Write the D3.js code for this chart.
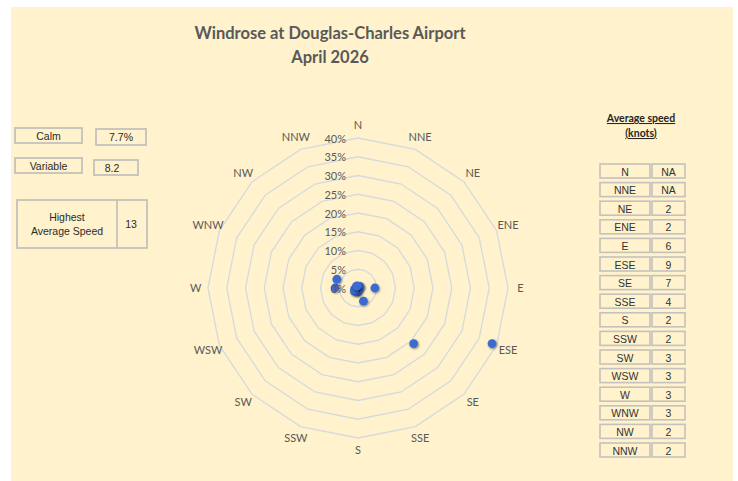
<!DOCTYPE html>
<html>
<head>
<meta charset="utf-8">
<script src="https://cdn.jsdelivr.net/npm/d3@7"></script>
<style>
  html, body { margin: 0; padding: 0; background: #ffffff; }
  svg { display: block; }
</style>
</head>
<body>
<svg id="chart" width="738" height="481"></svg>
<script>
// ---- data ----
const directions = ["N","NNE","NE","ENE","E","ESE","SE","SSE","S","SSW","SW","WSW","W","WNW","NW","NNW"];
const frequency = [0, 0, 0.6, 0.6, 4.5, 38.7, 21, 3.8, 1, 1, 1.3, 1, 6.1, 6.1, 0.6, 0.6]; // % of observations
const avgSpeed = ["NA","NA","2","2","6","9","7","4","2","2","3","3","3","3","2","2"]; // knots
const ringTicks = [0, 5, 10, 15, 20, 25, 30, 35, 40];
const titleLines = ["Windrose at Douglas-Charles Airport", "April 2026"];
const calmValue = "7.7%";
const variableValue = "8.2";
const highestAvgSpeed = "13";

// ---- layout ----
const svg = d3.select("#chart");
const cx = 358, cy = 288, R = 150;
const gridColor = "#d6dade";
const textColor = "#595959";
const boxStroke = "#c4c2bc";

svg.append("rect").attr("x", 11).attr("y", 7).attr("width", 722).attr("height", 474)
  .attr("fill", "#fff2cc");

// title
svg.selectAll("text.title").data(titleLines).join("text")
  .attr("class", "title")
  .attr("x", 330).attr("y", (d, i) => 39 + i * 24)
  .attr("text-anchor", "middle")
  .attr("font-family", "Lato, 'Open Sans', sans-serif")
  .attr("font-weight", "bold").attr("font-size", 16.5)
  .attr("fill", textColor)
  .text(d => d);

// radar scales
const r = d3.scaleLinear().domain([0, 40]).range([0, R]);
const angle = d3.scalePoint().domain(directions).range([0, 2 * Math.PI * (15 / 16)]);
const px = (dir, v) => cx + r(v) * Math.sin(angle(dir));
const py = (dir, v) => cy - r(v) * Math.cos(angle(dir));

const g = svg.append("g");
// rings (16-gon)
const ring = d3.line().curve(d3.curveLinearClosed);
g.selectAll("path.ring").data(ringTicks.filter(t => t > 0)).join("path")
  .attr("class", "ring")
  .attr("d", t => ring(directions.map(dd => [px(dd, t), py(dd, t)])))
  .attr("fill", "none").attr("stroke", gridColor).attr("stroke-width", 1.3);

// direction labels
g.selectAll("text.dir").data(directions).join("text")
  .attr("class", "dir")
  .attr("x", d => px(d, 43.3)).attr("y", d => py(d, 43.3) - 1)
  .attr("text-anchor", "middle").attr("dominant-baseline", "central")
  .attr("font-family", "Lato, 'Open Sans', sans-serif").attr("font-size", 11)
  .attr("fill", textColor)
  .text(d => d);

// shadow filter for markers
const defs = svg.append("defs");
const f = defs.append("filter").attr("id", "sh").attr("x", "-50%").attr("y", "-50%").attr("width", "200%").attr("height", "200%");
f.append("feDropShadow").attr("dx", 0.8).attr("dy", 1).attr("stdDeviation", 0.8)
  .attr("flood-color", "#000").attr("flood-opacity", 0.45);

// points
g.selectAll("circle.pt").data(directions.map((d, i) => ({ dir: d, v: frequency[i] }))).join("circle")
  .attr("class", "pt")
  .attr("cx", d => px(d.dir, d.v)).attr("cy", d => py(d.dir, d.v))
  .attr("r", 4.4)
  .attr("fill", "#3a6bd0")
  .attr("filter", "url(#sh)");

// ring tick labels
g.selectAll("text.tick").data(ringTicks).join("text")
  .attr("class", "tick")
  .attr("x", cx - 12).attr("y", t => cy - r(t))
  .attr("text-anchor", "end").attr("dominant-baseline", "central")
  .attr("font-family", "Lato, 'Open Sans', sans-serif").attr("font-size", 11)
  .attr("fill", textColor)
  .text(t => t + "%");

// left info boxes
const boxFont = "'Liberation Sans', Arial, sans-serif";
function box(x, y, w, h) {
  svg.append("rect").attr("x", x).attr("y", y).attr("width", w).attr("height", h)
    .attr("fill", "none").attr("stroke", boxStroke).attr("stroke-width", 1.8);
}
function label(x, y, t, anchor) {
  svg.append("text").attr("x", x).attr("y", y)
    .attr("text-anchor", anchor || "middle").attr("dominant-baseline", "central")
    .attr("font-family", boxFont).attr("font-size", 10.5).attr("fill", "#2b2b2b")
    .text(t);
}
box(15, 128, 67, 15); label(48.5, 135.5, "Calm");
box(96, 129, 50, 16); label(121, 137, calmValue);
box(15, 158, 67, 15); label(48.5, 165.5, "Variable");
box(94, 160, 44, 15); label(112, 167.5, variableValue);
box(17, 200, 130, 48);
svg.append("line").attr("x1", 117).attr("x2", 117).attr("y1", 200).attr("y2", 248)
  .attr("stroke", boxStroke).attr("stroke-width", 1.8);
label(67, 217, "Highest"); label(67, 231, "Average Speed");
label(131, 224, highestAvgSpeed);

// right table
const hdr = svg.append("g").attr("font-family", "Lato, 'Open Sans', sans-serif")
  .attr("font-weight", "bold").attr("font-size", 10.5).attr("fill", "#262626")
  .attr("text-anchor", "middle").attr("text-decoration", "underline");
hdr.append("text").attr("x", 641).attr("y", 122).text("Average speed");
hdr.append("text").attr("x", 641).attr("y", 137).text("(knots)");

const rowY = d3.scaleLinear().domain([0, 15]).range([164, 443]);
const rows = svg.append("g");
directions.forEach((d, i) => {
  const y = rowY(i);
  rows.append("rect").attr("x", 600).attr("y", y).attr("width", 50).attr("height", 14)
    .attr("fill", "none").attr("stroke", boxStroke).attr("stroke-width", 1.6);
  rows.append("rect").attr("x", 652).attr("y", y).attr("width", 33).attr("height", 14)
    .attr("fill", "none").attr("stroke", boxStroke).attr("stroke-width", 1.6);
  rows.append("text").attr("x", 625).attr("y", y + 7.5)
    .attr("text-anchor", "middle").attr("dominant-baseline", "central")
    .attr("font-family", boxFont).attr("font-size", 10.5).attr("fill", "#333")
    .text(d);
  rows.append("text").attr("x", 668.5).attr("y", y + 7.5)
    .attr("text-anchor", "middle").attr("dominant-baseline", "central")
    .attr("font-family", boxFont).attr("font-size", 10.5).attr("fill", "#333")
    .text(avgSpeed[i]);
});
</script>
</body>
</html>
